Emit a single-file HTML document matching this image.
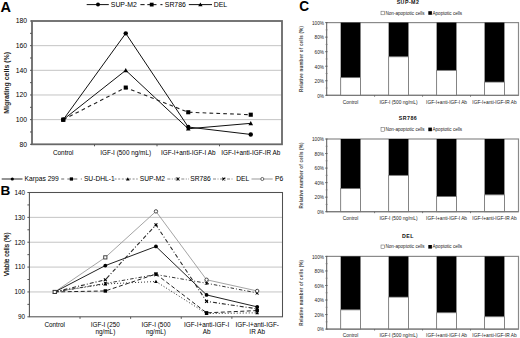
<!DOCTYPE html>
<html><head><meta charset="utf-8"><style>
html,body{margin:0;padding:0;background:#fff;}
svg{display:block;font-family:"Liberation Sans", sans-serif;}
</style></head><body>
<svg width="520" height="338" viewBox="0 0 520 338">
<rect width="520" height="338" fill="#fff"/>
<line x1="32.00" y1="45.66" x2="282.00" y2="45.66" stroke="#c4c4c4" stroke-width="1" />
<line x1="32.00" y1="70.32" x2="282.00" y2="70.32" stroke="#c4c4c4" stroke-width="1" />
<line x1="32.00" y1="94.98" x2="282.00" y2="94.98" stroke="#c4c4c4" stroke-width="1" />
<line x1="32.00" y1="119.64" x2="282.00" y2="119.64" stroke="#c4c4c4" stroke-width="1" />
<rect x="32.00" y="21.00" width="250.00" height="123.30" fill="none" stroke="#686868" stroke-width="1.8"/>
<line x1="30.00" y1="144.30" x2="32.00" y2="144.30" stroke="#555" stroke-width="1" />
<line x1="30.00" y1="131.97" x2="32.00" y2="131.97" stroke="#555" stroke-width="1" />
<line x1="30.00" y1="119.64" x2="32.00" y2="119.64" stroke="#555" stroke-width="1" />
<line x1="30.00" y1="107.31" x2="32.00" y2="107.31" stroke="#555" stroke-width="1" />
<line x1="30.00" y1="94.98" x2="32.00" y2="94.98" stroke="#555" stroke-width="1" />
<line x1="30.00" y1="82.65" x2="32.00" y2="82.65" stroke="#555" stroke-width="1" />
<line x1="30.00" y1="70.32" x2="32.00" y2="70.32" stroke="#555" stroke-width="1" />
<line x1="30.00" y1="57.99" x2="32.00" y2="57.99" stroke="#555" stroke-width="1" />
<line x1="30.00" y1="45.66" x2="32.00" y2="45.66" stroke="#555" stroke-width="1" />
<line x1="30.00" y1="33.33" x2="32.00" y2="33.33" stroke="#555" stroke-width="1" />
<line x1="30.00" y1="21.00" x2="32.00" y2="21.00" stroke="#555" stroke-width="1" />
<text x="27.00" y="146.50" font-size="6.8" text-anchor="end" font-weight="normal" fill="#000" >80</text>
<text x="27.00" y="121.84" font-size="6.8" text-anchor="end" font-weight="normal" fill="#000" >100</text>
<text x="27.00" y="97.18" font-size="6.8" text-anchor="end" font-weight="normal" fill="#000" >120</text>
<text x="27.00" y="72.52" font-size="6.8" text-anchor="end" font-weight="normal" fill="#000" >140</text>
<text x="27.00" y="47.86" font-size="6.8" text-anchor="end" font-weight="normal" fill="#000" >160</text>
<text x="27.00" y="23.20" font-size="6.8" text-anchor="end" font-weight="normal" fill="#000" >180</text>
<line x1="94.50" y1="144.30" x2="94.50" y2="146.30" stroke="#555" stroke-width="1" />
<line x1="157.00" y1="144.30" x2="157.00" y2="146.30" stroke="#555" stroke-width="1" />
<line x1="219.50" y1="144.30" x2="219.50" y2="146.30" stroke="#555" stroke-width="1" />
<text x="63.25" y="155.40" font-size="6.4" text-anchor="middle" font-weight="normal" fill="#000" >Control</text>
<text x="125.75" y="155.40" font-size="6.4" text-anchor="middle" font-weight="normal" fill="#000" >IGF-I (500 ng/mL)</text>
<text x="188.25" y="155.40" font-size="6.4" text-anchor="middle" font-weight="normal" fill="#000" >IGF-I+anti-IGF-I Ab</text>
<text x="250.75" y="155.40" font-size="6.4" text-anchor="middle" font-weight="normal" fill="#000" >IGF-I+anti-IGF-IR Ab</text>
<text transform="translate(9.0,82.8) rotate(-90)" font-size="7" font-weight="bold" fill="#1a1a1a" text-anchor="middle">Migrating cells (%)</text>
<text x="0.60" y="11.90" font-size="14.5" text-anchor="start" font-weight="bold" fill="#000" >A</text>
<polyline points="63.25,119.64 125.75,33.33 188.25,127.04 250.75,134.44" fill="none" stroke="#111" stroke-width="1" stroke-linejoin="miter"/>
<polyline points="63.25,119.64 125.75,70.32 188.25,128.76 250.75,123.34" fill="none" stroke="#111" stroke-width="1" stroke-linejoin="miter"/>
<polyline points="63.25,119.64 125.75,87.58 188.25,112.24 250.75,114.71" fill="none" stroke="#222" stroke-width="1.1" stroke-dasharray="3.7,3.2" stroke-linejoin="miter"/>
<circle cx="63.25" cy="119.64" r="2.20" fill="#000"/>
<circle cx="125.75" cy="33.33" r="2.20" fill="#000"/>
<circle cx="188.25" cy="127.04" r="2.20" fill="#000"/>
<circle cx="250.75" cy="134.44" r="2.20" fill="#000"/>
<rect x="61.20" y="117.59" width="4.10" height="4.10" fill="#000"/>
<rect x="123.70" y="85.53" width="4.10" height="4.10" fill="#000"/>
<rect x="186.20" y="110.19" width="4.10" height="4.10" fill="#000"/>
<rect x="248.70" y="112.66" width="4.10" height="4.10" fill="#000"/>
<polygon points="63.25,117.33 65.56,121.49 60.94,121.49" fill="#000"/>
<polygon points="125.75,68.01 128.06,72.17 123.44,72.17" fill="#000"/>
<polygon points="188.25,126.45 190.56,130.61 185.94,130.61" fill="#000"/>
<polygon points="250.75,121.03 253.06,125.19 248.44,125.19" fill="#000"/>
<line x1="86.70" y1="4.60" x2="108.80" y2="4.60" stroke="#111" stroke-width="1" />
<circle cx="98.00" cy="4.60" r="2.00" fill="#000"/>
<text x="110.80" y="7.10" font-size="6.9" text-anchor="start" font-weight="normal" fill="#000" >SUP-M2</text>
<line x1="140.40" y1="4.60" x2="144.60" y2="4.60" stroke="#222" stroke-width="1.1" />
<line x1="147.30" y1="4.60" x2="156.50" y2="4.60" stroke="#222" stroke-width="1.1" />
<line x1="160.40" y1="4.60" x2="162.50" y2="4.60" stroke="#222" stroke-width="1.1" />
<rect x="149.80" y="2.70" width="3.80" height="3.80" fill="#000"/>
<text x="164.80" y="7.10" font-size="6.9" text-anchor="start" font-weight="normal" fill="#000" >SR786</text>
<line x1="188.80" y1="4.60" x2="212.00" y2="4.60" stroke="#111" stroke-width="1" />
<polygon points="200.40,2.40 202.60,6.36 198.20,6.36" fill="#000"/>
<text x="213.80" y="7.10" font-size="6.9" text-anchor="start" font-weight="normal" fill="#000" >DEL</text>
<line x1="29.40" y1="217.36" x2="282.50" y2="217.36" stroke="#c4c4c4" stroke-width="1" />
<line x1="29.40" y1="242.22" x2="282.50" y2="242.22" stroke="#c4c4c4" stroke-width="1" />
<line x1="29.40" y1="267.08" x2="282.50" y2="267.08" stroke="#c4c4c4" stroke-width="1" />
<line x1="29.40" y1="291.94" x2="282.50" y2="291.94" stroke="#c4c4c4" stroke-width="1" />
<rect x="29.40" y="192.50" width="253.10" height="124.30" fill="none" stroke="#505050" stroke-width="1.05"/>
<line x1="27.40" y1="316.80" x2="29.40" y2="316.80" stroke="#555" stroke-width="1" />
<line x1="27.40" y1="304.37" x2="29.40" y2="304.37" stroke="#555" stroke-width="1" />
<line x1="27.40" y1="291.94" x2="29.40" y2="291.94" stroke="#555" stroke-width="1" />
<line x1="27.40" y1="279.51" x2="29.40" y2="279.51" stroke="#555" stroke-width="1" />
<line x1="27.40" y1="267.08" x2="29.40" y2="267.08" stroke="#555" stroke-width="1" />
<line x1="27.40" y1="254.65" x2="29.40" y2="254.65" stroke="#555" stroke-width="1" />
<line x1="27.40" y1="242.22" x2="29.40" y2="242.22" stroke="#555" stroke-width="1" />
<line x1="27.40" y1="229.79" x2="29.40" y2="229.79" stroke="#555" stroke-width="1" />
<line x1="27.40" y1="217.36" x2="29.40" y2="217.36" stroke="#555" stroke-width="1" />
<line x1="27.40" y1="204.93" x2="29.40" y2="204.93" stroke="#555" stroke-width="1" />
<line x1="27.40" y1="192.50" x2="29.40" y2="192.50" stroke="#555" stroke-width="1" />
<text x="24.90" y="319.10" font-size="6.3" text-anchor="end" font-weight="normal" fill="#000" >90</text>
<text x="24.90" y="294.24" font-size="6.3" text-anchor="end" font-weight="normal" fill="#000" >100</text>
<text x="24.90" y="269.38" font-size="6.3" text-anchor="end" font-weight="normal" fill="#000" >110</text>
<text x="24.90" y="244.52" font-size="6.3" text-anchor="end" font-weight="normal" fill="#000" >120</text>
<text x="24.90" y="219.66" font-size="6.3" text-anchor="end" font-weight="normal" fill="#000" >130</text>
<text x="24.90" y="194.80" font-size="6.3" text-anchor="end" font-weight="normal" fill="#000" >140</text>
<line x1="80.02" y1="316.80" x2="80.02" y2="318.80" stroke="#555" stroke-width="1" />
<line x1="130.64" y1="316.80" x2="130.64" y2="318.80" stroke="#555" stroke-width="1" />
<line x1="181.26" y1="316.80" x2="181.26" y2="318.80" stroke="#555" stroke-width="1" />
<line x1="231.88" y1="316.80" x2="231.88" y2="318.80" stroke="#555" stroke-width="1" />
<text x="54.71" y="327.20" font-size="6.4" text-anchor="middle" font-weight="normal" fill="#000" >Control</text>
<text x="105.33" y="327.20" font-size="6.4" text-anchor="middle" font-weight="normal" fill="#000" >IGF-I (250</text>
<text x="105.33" y="334.00" font-size="6.4" text-anchor="middle" font-weight="normal" fill="#000" >ng/mL)</text>
<text x="155.95" y="327.20" font-size="6.4" text-anchor="middle" font-weight="normal" fill="#000" >IGF-I (500</text>
<text x="155.95" y="334.00" font-size="6.4" text-anchor="middle" font-weight="normal" fill="#000" >ng/mL)</text>
<text x="206.57" y="327.20" font-size="6.4" text-anchor="middle" font-weight="normal" fill="#000" >IGF-I+anti-IGF-I</text>
<text x="206.57" y="334.00" font-size="6.4" text-anchor="middle" font-weight="normal" fill="#000" >Ab</text>
<text x="257.19" y="327.20" font-size="6.4" text-anchor="middle" font-weight="normal" fill="#000" >IGF-I+anti-IGF-</text>
<text x="257.19" y="334.00" font-size="6.4" text-anchor="middle" font-weight="normal" fill="#000" >IR Ab</text>
<text transform="translate(9.2,254.3) rotate(-90)" font-size="6.4" font-weight="normal" fill="#000" stroke="#000" stroke-width="0.15" text-anchor="middle">Viable cells (%)</text>
<text x="0.60" y="194.80" font-size="13.6" text-anchor="start" font-weight="bold" fill="#000" >B</text>
<polyline points="54.71,291.94 105.33,257.38 155.95,211.39 206.57,279.76 257.19,290.95" fill="none" stroke="#9a9a9a" stroke-width="0.9" stroke-linejoin="miter"/>
<polyline points="54.71,291.94 105.33,265.59 155.95,246.45 206.57,294.92 257.19,306.86" fill="none" stroke="#222" stroke-width="1.0" stroke-linejoin="miter"/>
<polyline points="54.71,291.94 105.33,290.95 155.95,274.04 206.57,312.82 257.19,310.59" fill="none" stroke="#222" stroke-width="1" stroke-dasharray="4,2.5" stroke-linejoin="miter"/>
<polyline points="54.71,291.94 105.33,283.98 155.95,281.50 206.57,313.57 257.19,312.82" fill="none" stroke="#333" stroke-width="1" stroke-dasharray="1,2" stroke-linejoin="miter"/>
<polyline points="54.71,291.94 105.33,283.49 155.95,274.54 206.57,283.24 257.19,292.93" fill="none" stroke="#333" stroke-width="1" stroke-dasharray="3.5,2,1,2" stroke-linejoin="miter"/>
<polyline points="54.71,291.94 105.33,279.76 155.95,224.82 206.57,301.39 257.19,308.84" fill="none" stroke="#2a2a2a" stroke-width="1.1" stroke-dasharray="4,2,1,2" stroke-linejoin="miter"/>
<circle cx="54.71" cy="291.94" r="1.90" fill="#000"/>
<circle cx="105.33" cy="265.59" r="1.90" fill="#000"/>
<circle cx="155.95" cy="246.45" r="1.90" fill="#000"/>
<circle cx="206.57" cy="294.92" r="1.90" fill="#000"/>
<circle cx="257.19" cy="306.86" r="1.90" fill="#000"/>
<rect x="53.00" y="290.23" width="3.42" height="3.42" fill="#000"/>
<rect x="103.62" y="289.24" width="3.42" height="3.42" fill="#000"/>
<rect x="154.24" y="272.33" width="3.42" height="3.42" fill="#000"/>
<rect x="204.86" y="311.11" width="3.42" height="3.42" fill="#000"/>
<rect x="255.48" y="308.88" width="3.42" height="3.42" fill="#000"/>
<polygon points="54.71,290.07 56.58,293.44 52.84,293.44" fill="#000"/>
<polygon points="105.33,282.11 107.20,285.48 103.46,285.48" fill="#000"/>
<polygon points="155.95,279.63 157.82,282.99 154.08,282.99" fill="#000"/>
<polygon points="206.57,311.70 208.44,315.06 204.70,315.06" fill="#000"/>
<polygon points="257.19,310.95 259.06,314.32 255.32,314.32" fill="#000"/>
<path d="M53.19,290.42L56.23,293.46M53.19,293.46L56.23,290.42M54.71,290.42L54.71,293.46" stroke="#000" stroke-width="1"/>
<path d="M103.81,281.97L106.85,285.01M103.81,285.01L106.85,281.97M105.33,281.97L105.33,285.01" stroke="#000" stroke-width="1"/>
<path d="M154.43,273.02L157.47,276.06M154.43,276.06L157.47,273.02M155.95,273.02L155.95,276.06" stroke="#000" stroke-width="1"/>
<path d="M205.05,281.72L208.09,284.76M205.05,284.76L208.09,281.72M206.57,281.72L206.57,284.76" stroke="#000" stroke-width="1"/>
<path d="M255.67,291.41L258.71,294.45M255.67,294.45L258.71,291.41M257.19,291.41L257.19,294.45" stroke="#000" stroke-width="1"/>
<path d="M53.27,290.50L56.15,293.38M53.27,293.38L56.15,290.50" stroke="#000" stroke-width="1.1"/>
<path d="M103.89,278.32L106.77,281.20M103.89,281.20L106.77,278.32" stroke="#000" stroke-width="1.1"/>
<path d="M154.51,223.38L157.39,226.26M154.51,226.26L157.39,223.38" stroke="#000" stroke-width="1.1"/>
<path d="M205.13,299.95L208.01,302.83M205.13,302.83L208.01,299.95" stroke="#000" stroke-width="1.1"/>
<path d="M255.75,307.40L258.63,310.28M255.75,310.28L258.63,307.40" stroke="#000" stroke-width="1.1"/>
<rect x="53.11" y="290.34" width="3.20" height="3.20" fill="#fff" stroke="#333" stroke-width="0.9"/>
<rect x="103.73" y="255.78" width="3.20" height="3.20" fill="#fff" stroke="#333" stroke-width="0.9"/>
<circle cx="155.95" cy="211.39" r="1.70" fill="#fff" stroke="#333" stroke-width="0.9"/>
<circle cx="206.57" cy="279.76" r="1.70" fill="#fff" stroke="#333" stroke-width="0.9"/>
<circle cx="257.19" cy="290.95" r="1.70" fill="#fff" stroke="#333" stroke-width="0.9"/>
<line x1="1.70" y1="179.00" x2="22.50" y2="179.00" stroke="#666" stroke-width="1.4" />
<circle cx="12.30" cy="179.00" r="1.60" fill="#000"/>
<text x="24.60" y="181.40" font-size="6.7" text-anchor="start" font-weight="normal" fill="#000" >Karpas 299</text>
<line x1="61.20" y1="179.00" x2="64.20" y2="179.00" stroke="#777" stroke-width="1.1" />
<line x1="67.30" y1="179.00" x2="77.30" y2="179.00" stroke="#777" stroke-width="1.1" />
<line x1="80.80" y1="179.00" x2="81.90" y2="179.00" stroke="#777" stroke-width="1.1" />
<rect x="69.79" y="177.38" width="3.23" height="3.23" fill="#000"/>
<text x="83.90" y="181.40" font-size="6.7" text-anchor="start" font-weight="normal" fill="#000" >SU-DHL-1</text>
<line x1="114.60" y1="179.00" x2="137.70" y2="179.00" stroke="#888" stroke-width="1" stroke-dasharray="2,1.6" />
<polygon points="127.80,177.13 129.67,180.50 125.93,180.50" fill="#000"/>
<text x="139.80" y="181.40" font-size="6.7" text-anchor="start" font-weight="normal" fill="#000" >SUP-M2</text>
<line x1="167.30" y1="179.00" x2="189.00" y2="179.00" stroke="#888" stroke-width="1" stroke-dasharray="3,1.5,1,1.5" />
<path d="M176.28,177.48L179.32,180.52M176.28,180.52L179.32,177.48M177.80,177.48L177.80,180.52" stroke="#000" stroke-width="1"/>
<text x="190.20" y="181.40" font-size="6.7" text-anchor="start" font-weight="normal" fill="#000" >SR786</text>
<line x1="213.00" y1="179.00" x2="234.00" y2="179.00" stroke="#888" stroke-width="1" stroke-dasharray="3,1.5,1,1.5" />
<path d="M222.36,177.56L225.24,180.44M222.36,180.44L225.24,177.56" stroke="#000" stroke-width="1.1"/>
<text x="236.20" y="181.40" font-size="6.7" text-anchor="start" font-weight="normal" fill="#000" >DEL</text>
<line x1="251.50" y1="179.00" x2="272.70" y2="179.00" stroke="#999" stroke-width="1" />
<circle cx="262.30" cy="179.00" r="1.53" fill="#fff" stroke="#555" stroke-width="0.9"/>
<text x="275.00" y="181.40" font-size="6.7" text-anchor="start" font-weight="normal" fill="#000" >P6</text>
<text x="299.20" y="11.30" font-size="14.5" text-anchor="start" font-weight="bold" fill="#000" transform="translate(299.2 11.3) scale(0.94 1.04) translate(-299.2 -11.3)">C</text>
<text x="408.00" y="3.80" font-size="5.3" text-anchor="middle" font-weight="bold" fill="#111" letter-spacing="0.45">SUP-M2</text>
<rect x="381.00" y="11.20" width="3.6" height="3.6" fill="#fff" stroke="#555" stroke-width="0.5"/>
<text x="385.50" y="14.60" font-size="4.6" text-anchor="start" font-weight="normal" fill="#222" >Non-apoptotic cells</text>
<rect x="428.30" y="11.20" width="3.6" height="3.6" fill="#000"/>
<text x="432.50" y="14.60" font-size="4.6" text-anchor="start" font-weight="normal" fill="#222" >Apoptotic cells</text>
<rect x="326.60" y="22.60" width="191.90" height="72.70" fill="none" stroke="#8a8a8a" stroke-width="1.2"/>
<rect x="340.69" y="22.60" width="19.80" height="55.03" fill="#000"/>
<rect x="340.69" y="77.63" width="19.80" height="17.67" fill="#fff" stroke="#666" stroke-width="0.8"/>
<text x="350.59" y="103.50" font-size="4.8" text-anchor="middle" font-weight="normal" fill="#222" >Control</text>
<rect x="388.66" y="22.60" width="19.80" height="34.17" fill="#000"/>
<rect x="388.66" y="56.77" width="19.80" height="38.53" fill="#fff" stroke="#666" stroke-width="0.8"/>
<text x="398.56" y="103.50" font-size="4.8" text-anchor="middle" font-weight="normal" fill="#222" >IGF-I (500 ng/mL)</text>
<rect x="436.64" y="22.60" width="19.80" height="47.76" fill="#000"/>
<rect x="436.64" y="70.36" width="19.80" height="24.94" fill="#fff" stroke="#666" stroke-width="0.8"/>
<text x="446.54" y="103.50" font-size="4.8" text-anchor="middle" font-weight="normal" fill="#222" >IGF-I+anti-IGF-I Ab</text>
<rect x="484.61" y="22.60" width="19.80" height="59.47" fill="#000"/>
<rect x="484.61" y="82.07" width="19.80" height="13.23" fill="#fff" stroke="#666" stroke-width="0.8"/>
<text x="494.51" y="103.50" font-size="4.8" text-anchor="middle" font-weight="normal" fill="#222" >IGF-I+anti-IGF-IR Ab</text>
<line x1="326.60" y1="22.60" x2="326.60" y2="95.30" stroke="#777" stroke-width="1.0" />
<line x1="326.60" y1="95.30" x2="518.50" y2="95.30" stroke="#777" stroke-width="1.0" />
<line x1="325.10" y1="95.30" x2="327.60" y2="95.30" stroke="#555" stroke-width="0.8" />
<text x="324.00" y="97.60" font-size="4.7" text-anchor="end" font-weight="normal" fill="#1a1a1a" >0%</text>
<line x1="325.10" y1="80.76" x2="327.60" y2="80.76" stroke="#555" stroke-width="0.8" />
<text x="324.00" y="83.06" font-size="4.7" text-anchor="end" font-weight="normal" fill="#1a1a1a" >20%</text>
<line x1="325.10" y1="66.22" x2="327.60" y2="66.22" stroke="#555" stroke-width="0.8" />
<text x="324.00" y="68.52" font-size="4.7" text-anchor="end" font-weight="normal" fill="#1a1a1a" >40%</text>
<line x1="325.10" y1="51.68" x2="327.60" y2="51.68" stroke="#555" stroke-width="0.8" />
<text x="324.00" y="53.98" font-size="4.7" text-anchor="end" font-weight="normal" fill="#1a1a1a" >60%</text>
<line x1="325.10" y1="37.14" x2="327.60" y2="37.14" stroke="#555" stroke-width="0.8" />
<text x="324.00" y="39.44" font-size="4.7" text-anchor="end" font-weight="normal" fill="#1a1a1a" >80%</text>
<line x1="325.10" y1="22.60" x2="327.60" y2="22.60" stroke="#555" stroke-width="0.8" />
<text x="324.00" y="24.90" font-size="4.7" text-anchor="end" font-weight="normal" fill="#1a1a1a" >100%</text>
<line x1="325.60" y1="88.03" x2="327.60" y2="88.03" stroke="#777" stroke-width="0.7" />
<line x1="325.60" y1="73.49" x2="327.60" y2="73.49" stroke="#777" stroke-width="0.7" />
<line x1="325.60" y1="58.95" x2="327.60" y2="58.95" stroke="#777" stroke-width="0.7" />
<line x1="325.60" y1="44.41" x2="327.60" y2="44.41" stroke="#777" stroke-width="0.7" />
<line x1="325.60" y1="29.87" x2="327.60" y2="29.87" stroke="#777" stroke-width="0.7" />
<line x1="374.58" y1="95.30" x2="374.58" y2="96.80" stroke="#555" stroke-width="0.7" />
<line x1="422.55" y1="95.30" x2="422.55" y2="96.80" stroke="#555" stroke-width="0.7" />
<line x1="470.52" y1="95.30" x2="470.52" y2="96.80" stroke="#555" stroke-width="0.7" />
<text transform="translate(303.2,58.95) rotate(-90)" font-size="4.5" font-weight="bold" text-anchor="middle" fill="#444" letter-spacing="0.22">Relative number of cells (%)</text>
<text x="408.00" y="120.20" font-size="5.3" text-anchor="middle" font-weight="bold" fill="#111" letter-spacing="0.45">SR786</text>
<rect x="381.00" y="127.60" width="3.6" height="3.6" fill="#fff" stroke="#555" stroke-width="0.5"/>
<text x="385.50" y="131.00" font-size="4.6" text-anchor="start" font-weight="normal" fill="#222" >Non-apoptotic cells</text>
<rect x="428.30" y="127.60" width="3.6" height="3.6" fill="#000"/>
<text x="432.50" y="131.00" font-size="4.6" text-anchor="start" font-weight="normal" fill="#222" >Apoptotic cells</text>
<rect x="326.60" y="139.00" width="191.90" height="72.70" fill="none" stroke="#8a8a8a" stroke-width="1.2"/>
<rect x="340.69" y="139.00" width="19.80" height="49.58" fill="#000"/>
<rect x="340.69" y="188.58" width="19.80" height="23.12" fill="#fff" stroke="#666" stroke-width="0.8"/>
<text x="350.59" y="219.90" font-size="4.8" text-anchor="middle" font-weight="normal" fill="#222" >Control</text>
<rect x="388.66" y="139.00" width="19.80" height="36.35" fill="#000"/>
<rect x="388.66" y="175.35" width="19.80" height="36.35" fill="#fff" stroke="#666" stroke-width="0.8"/>
<text x="398.56" y="219.90" font-size="4.8" text-anchor="middle" font-weight="normal" fill="#222" >IGF-I (500 ng/mL)</text>
<rect x="436.64" y="139.00" width="19.80" height="57.58" fill="#000"/>
<rect x="436.64" y="196.58" width="19.80" height="15.12" fill="#fff" stroke="#666" stroke-width="0.8"/>
<text x="446.54" y="219.90" font-size="4.8" text-anchor="middle" font-weight="normal" fill="#222" >IGF-I+anti-IGF-I Ab</text>
<rect x="484.61" y="139.00" width="19.80" height="55.83" fill="#000"/>
<rect x="484.61" y="194.83" width="19.80" height="16.87" fill="#fff" stroke="#666" stroke-width="0.8"/>
<text x="494.51" y="219.90" font-size="4.8" text-anchor="middle" font-weight="normal" fill="#222" >IGF-I+anti-IGF-IR Ab</text>
<line x1="326.60" y1="139.00" x2="326.60" y2="211.70" stroke="#777" stroke-width="1.0" />
<line x1="326.60" y1="211.70" x2="518.50" y2="211.70" stroke="#777" stroke-width="1.0" />
<line x1="325.10" y1="211.70" x2="327.60" y2="211.70" stroke="#555" stroke-width="0.8" />
<text x="324.00" y="214.00" font-size="4.7" text-anchor="end" font-weight="normal" fill="#1a1a1a" >0%</text>
<line x1="325.10" y1="197.16" x2="327.60" y2="197.16" stroke="#555" stroke-width="0.8" />
<text x="324.00" y="199.46" font-size="4.7" text-anchor="end" font-weight="normal" fill="#1a1a1a" >20%</text>
<line x1="325.10" y1="182.62" x2="327.60" y2="182.62" stroke="#555" stroke-width="0.8" />
<text x="324.00" y="184.92" font-size="4.7" text-anchor="end" font-weight="normal" fill="#1a1a1a" >40%</text>
<line x1="325.10" y1="168.08" x2="327.60" y2="168.08" stroke="#555" stroke-width="0.8" />
<text x="324.00" y="170.38" font-size="4.7" text-anchor="end" font-weight="normal" fill="#1a1a1a" >60%</text>
<line x1="325.10" y1="153.54" x2="327.60" y2="153.54" stroke="#555" stroke-width="0.8" />
<text x="324.00" y="155.84" font-size="4.7" text-anchor="end" font-weight="normal" fill="#1a1a1a" >80%</text>
<line x1="325.10" y1="139.00" x2="327.60" y2="139.00" stroke="#555" stroke-width="0.8" />
<text x="324.00" y="141.30" font-size="4.7" text-anchor="end" font-weight="normal" fill="#1a1a1a" >100%</text>
<line x1="325.60" y1="204.43" x2="327.60" y2="204.43" stroke="#777" stroke-width="0.7" />
<line x1="325.60" y1="189.89" x2="327.60" y2="189.89" stroke="#777" stroke-width="0.7" />
<line x1="325.60" y1="175.35" x2="327.60" y2="175.35" stroke="#777" stroke-width="0.7" />
<line x1="325.60" y1="160.81" x2="327.60" y2="160.81" stroke="#777" stroke-width="0.7" />
<line x1="325.60" y1="146.27" x2="327.60" y2="146.27" stroke="#777" stroke-width="0.7" />
<line x1="374.58" y1="211.70" x2="374.58" y2="213.20" stroke="#555" stroke-width="0.7" />
<line x1="422.55" y1="211.70" x2="422.55" y2="213.20" stroke="#555" stroke-width="0.7" />
<line x1="470.52" y1="211.70" x2="470.52" y2="213.20" stroke="#555" stroke-width="0.7" />
<text transform="translate(303.2,175.35) rotate(-90)" font-size="4.5" font-weight="bold" text-anchor="middle" fill="#444" letter-spacing="0.22">Relative number of cells (%)</text>
<text x="408.00" y="237.60" font-size="5.3" text-anchor="middle" font-weight="bold" fill="#111" letter-spacing="0.45">DEL</text>
<rect x="381.00" y="245.00" width="3.6" height="3.6" fill="#fff" stroke="#555" stroke-width="0.5"/>
<text x="385.50" y="248.40" font-size="4.6" text-anchor="start" font-weight="normal" fill="#222" >Non-apoptotic cells</text>
<rect x="428.30" y="245.00" width="3.6" height="3.6" fill="#000"/>
<text x="432.50" y="248.40" font-size="4.6" text-anchor="start" font-weight="normal" fill="#222" >Apoptotic cells</text>
<rect x="326.60" y="256.40" width="191.90" height="72.70" fill="none" stroke="#8a8a8a" stroke-width="1.2"/>
<rect x="340.69" y="256.40" width="19.80" height="53.43" fill="#000"/>
<rect x="340.69" y="309.83" width="19.80" height="19.27" fill="#fff" stroke="#666" stroke-width="0.8"/>
<text x="350.59" y="337.30" font-size="4.8" text-anchor="middle" font-weight="normal" fill="#222" >Control</text>
<rect x="388.66" y="256.40" width="19.80" height="40.71" fill="#000"/>
<rect x="388.66" y="297.11" width="19.80" height="31.99" fill="#fff" stroke="#666" stroke-width="0.8"/>
<text x="398.56" y="337.30" font-size="4.8" text-anchor="middle" font-weight="normal" fill="#222" >IGF-I (500 ng/mL)</text>
<rect x="436.64" y="256.40" width="19.80" height="56.34" fill="#000"/>
<rect x="436.64" y="312.74" width="19.80" height="16.36" fill="#fff" stroke="#666" stroke-width="0.8"/>
<text x="446.54" y="337.30" font-size="4.8" text-anchor="middle" font-weight="normal" fill="#222" >IGF-I+anti-IGF-I Ab</text>
<rect x="484.61" y="256.40" width="19.80" height="60.34" fill="#000"/>
<rect x="484.61" y="316.74" width="19.80" height="12.36" fill="#fff" stroke="#666" stroke-width="0.8"/>
<text x="494.51" y="337.30" font-size="4.8" text-anchor="middle" font-weight="normal" fill="#222" >IGF-I+anti-IGF-IR Ab</text>
<line x1="326.60" y1="256.40" x2="326.60" y2="329.10" stroke="#777" stroke-width="1.0" />
<line x1="326.60" y1="329.10" x2="518.50" y2="329.10" stroke="#777" stroke-width="1.0" />
<line x1="325.10" y1="329.10" x2="327.60" y2="329.10" stroke="#555" stroke-width="0.8" />
<text x="324.00" y="331.40" font-size="4.7" text-anchor="end" font-weight="normal" fill="#1a1a1a" >0%</text>
<line x1="325.10" y1="314.56" x2="327.60" y2="314.56" stroke="#555" stroke-width="0.8" />
<text x="324.00" y="316.86" font-size="4.7" text-anchor="end" font-weight="normal" fill="#1a1a1a" >20%</text>
<line x1="325.10" y1="300.02" x2="327.60" y2="300.02" stroke="#555" stroke-width="0.8" />
<text x="324.00" y="302.32" font-size="4.7" text-anchor="end" font-weight="normal" fill="#1a1a1a" >40%</text>
<line x1="325.10" y1="285.48" x2="327.60" y2="285.48" stroke="#555" stroke-width="0.8" />
<text x="324.00" y="287.78" font-size="4.7" text-anchor="end" font-weight="normal" fill="#1a1a1a" >60%</text>
<line x1="325.10" y1="270.94" x2="327.60" y2="270.94" stroke="#555" stroke-width="0.8" />
<text x="324.00" y="273.24" font-size="4.7" text-anchor="end" font-weight="normal" fill="#1a1a1a" >80%</text>
<line x1="325.10" y1="256.40" x2="327.60" y2="256.40" stroke="#555" stroke-width="0.8" />
<text x="324.00" y="258.70" font-size="4.7" text-anchor="end" font-weight="normal" fill="#1a1a1a" >100%</text>
<line x1="325.60" y1="321.83" x2="327.60" y2="321.83" stroke="#777" stroke-width="0.7" />
<line x1="325.60" y1="307.29" x2="327.60" y2="307.29" stroke="#777" stroke-width="0.7" />
<line x1="325.60" y1="292.75" x2="327.60" y2="292.75" stroke="#777" stroke-width="0.7" />
<line x1="325.60" y1="278.21" x2="327.60" y2="278.21" stroke="#777" stroke-width="0.7" />
<line x1="325.60" y1="263.67" x2="327.60" y2="263.67" stroke="#777" stroke-width="0.7" />
<line x1="374.58" y1="329.10" x2="374.58" y2="330.60" stroke="#555" stroke-width="0.7" />
<line x1="422.55" y1="329.10" x2="422.55" y2="330.60" stroke="#555" stroke-width="0.7" />
<line x1="470.52" y1="329.10" x2="470.52" y2="330.60" stroke="#555" stroke-width="0.7" />
<text transform="translate(303.2,292.75) rotate(-90)" font-size="4.5" font-weight="bold" text-anchor="middle" fill="#444" letter-spacing="0.22">Relative number of cells (%)</text>
</svg>
</body></html>
